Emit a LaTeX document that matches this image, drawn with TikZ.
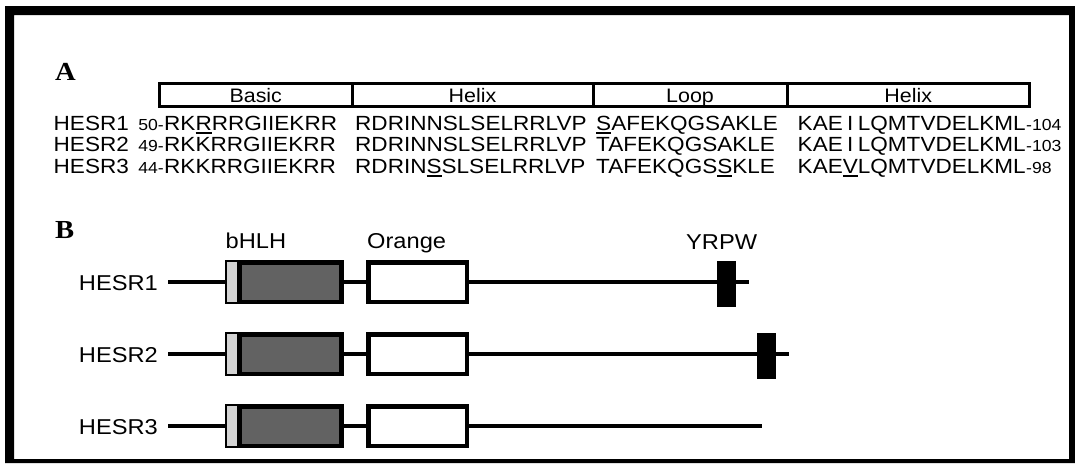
\documentclass[tikz,border=0pt]{standalone}
\usepackage{fontspec}
\setmainfont{Liberation Serif}
\newfontfamily\figfont[FakeStretch=1.1]{Liberation Sans}
\newfontfamily\panelfont[FakeStretch=1.1]{Liberation Serif}
\usetikzlibrary{calc,positioning}
\definecolor{domdark}{HTML}{626262}
\definecolor{domlight}{HTML}{D3D3D3}
\newsavebox\resbox
\newcommand{\mutres}[1]{\sbox\resbox{#1}\rlap{\rule[-3.5pt]{\wd\resbox}{1.6pt}}\usebox\resbox}
\newcommand{\gapI}{\makebox[\fontcharwd\font`V]{I}}

\begin{document}
\begin{tikzpicture}[
  x=1pt, y=-1pt,
  panel/.style={
    anchor=base west,
    inner sep=0pt,
    font=\panelfont\bfseries\fontsize{26}{30}\selectfont
  },
  seqtxt/.style={
    anchor=base west,
    inner sep=0pt,
    font=\figfont\fontsize{20.5}{24}\selectfont
  },
  numtxt/.style={
    inner sep=0pt,
    font=\figfont\fontsize{16}{18}\selectfont
  },
  region/.style={
    draw,
    line width=3pt,
    inner sep=0pt,
    minimum height=23pt,
    text height=14.5pt,
    text depth=0pt,
    font=\figfont\fontsize{19.5}{22}\selectfont
  },
  domtxt/.style={
    inner sep=0pt,
    font=\figfont\fontsize{21.5}{25}\selectfont
  },
  backbone/.style={line width=4pt},
  hlhbox/.style={
    draw,
    line width=4.5pt,
    fill=domdark,
    minimum width=114pt,
    minimum height=39.5pt,
    inner sep=0pt
  },
  orbox/.style={
    draw,
    line width=4.5pt,
    fill=white,
    minimum width=98.5pt,
    minimum height=39.5pt,
    inner sep=0pt
  },
  yrpwbox/.style={
    fill=black,
    minimum width=19pt,
    minimum height=46pt,
    inner sep=0pt
  }
]
\useasboundingbox (0,0) rectangle (1075,463);
% frame
\fill[even odd rule] (5,6) rectangle (1075,463) (14,15) rectangle (1069,459);

% panel A
\node[panel] (labA) at (55,80) {A};
\node[region,minimum width=192.5pt] (regbasic) at (255.75,95) {Basic};
\node[region,minimum width=241pt] (reghelix) at (472.5,95) {Helix};
\node[region,minimum width=194pt] (regloop) at (690,95) {Loop};
\node[region,minimum width=242.5pt] (reghelixb) at (908.25,95) {Helix};

\node[seqtxt] (nameA1) at (53.5,130) {HESR1};
\node[seqtxt] (basA1) at (164,130) {RK\mutres{R}RRGIIEKRR};
\node[numtxt,anchor=base east] (startA1) at (basA1.base west) {50-};
\node[seqtxt] (hxA1) at (355,130) {RDRINNSLSELRRLVP};
\node[seqtxt] (lpA1) at (596,130) {\mutres{S}AFEKQGSAKLE};
\node[seqtxt] (hyA1) at (797.5,130) {KAE\gapI LQMTVDELKML};
\node[numtxt,anchor=base west] (endA1) at (hyA1.base east) {-104};

\node[seqtxt] (nameA2) at (53.5,151.5) {HESR2};
\node[seqtxt] (basA2) at (164,151.5) {RKKRRGIIEKRR};
\node[numtxt,anchor=base east] (startA2) at (basA2.base west) {49-};
\node[seqtxt] (hxA2) at (355,151.5) {RDRINNSLSELRRLVP};
\node[seqtxt] (lpA2) at (596,151.5) {TAFEKQGSAKLE};
\node[seqtxt] (hyA2) at (797.5,151.5) {KAE\gapI LQMTVDELKML};
\node[numtxt,anchor=base west] (endA2) at (hyA2.base east) {-103};

\node[seqtxt] (nameA3) at (53.5,173) {HESR3};
\node[seqtxt] (basA3) at (164,173) {RKKRRGIIEKRR};
\node[numtxt,anchor=base east] (startA3) at (basA3.base west) {44-};
\node[seqtxt] (hxA3) at (355,173) {RDRIN\mutres{S}SLSELRRLVP};
\node[seqtxt] (lpA3) at (596,173) {TAFEKQGS\mutres{S}KLE};
\node[seqtxt] (hyA3) at (797.5,173) {KAE\mutres{V}LQMTVDELKML};
\node[numtxt,anchor=base west] (endA3) at (hyA3.base east) {-98};

% panel B
\node[panel] (labB) at (55,238.5) {B};
\node[domtxt,anchor=base west] (hdrbhlh) at (225.5,248.3) {bHLH};
\node[domtxt,anchor=base west] (hdrorange) at (367,248.3) {Orange};
\node[domtxt,anchor=base west] (hdryrpw) at (686,249.5) {YRPW};

\node[domtxt,anchor=east] (nameB1) at (158,283.5) {HESR1};
\coordinate (b1s) at (168,282);
\coordinate (b1e) at (749,282);
\draw[backbone] (b1s) -- (b1e);
\node[hlhbox] (bhlh1) at (284.25,282) {};
\fill[domlight] ($(bhlh1.north west)+(2.25,2.25)$) rectangle ($(bhlh1.south west)+(12,-2.25)$);
\draw[line width=4.5pt] ($(bhlh1.north west)+(14.25,0)$) -- ($(bhlh1.south west)+(14.25,0)$);
\node[orbox] (orng1) at (417.5,282) {};
\node[yrpwbox] (yrpw1) at (726,283.5) {};

\node[domtxt,anchor=east] (nameB2) at (158,355.5) {HESR2};
\coordinate (b2s) at (168,354);
\coordinate (b2e) at (789,354);
\draw[backbone] (b2s) -- (b2e);
\node[hlhbox] (bhlh2) at (284.25,354) {};
\fill[domlight] ($(bhlh2.north west)+(2.25,2.25)$) rectangle ($(bhlh2.south west)+(12,-2.25)$);
\draw[line width=4.5pt] ($(bhlh2.north west)+(14.25,0)$) -- ($(bhlh2.south west)+(14.25,0)$);
\node[orbox] (orng2) at (417.5,354) {};
\node[yrpwbox] (yrpw2) at (766,355.5) {};

\node[domtxt,anchor=east] (nameB3) at (158,427.5) {HESR3};
\coordinate (b3s) at (168,426);
\coordinate (b3e) at (762,426);
\draw[backbone] (b3s) -- (b3e);
\node[hlhbox] (bhlh3) at (284.25,426) {};
\fill[domlight] ($(bhlh3.north west)+(2.25,2.25)$) rectangle ($(bhlh3.south west)+(12,-2.25)$);
\draw[line width=4.5pt] ($(bhlh3.north west)+(14.25,0)$) -- ($(bhlh3.south west)+(14.25,0)$);
\node[orbox] (orng3) at (417.5,426) {};
\end{tikzpicture}
\end{document}
